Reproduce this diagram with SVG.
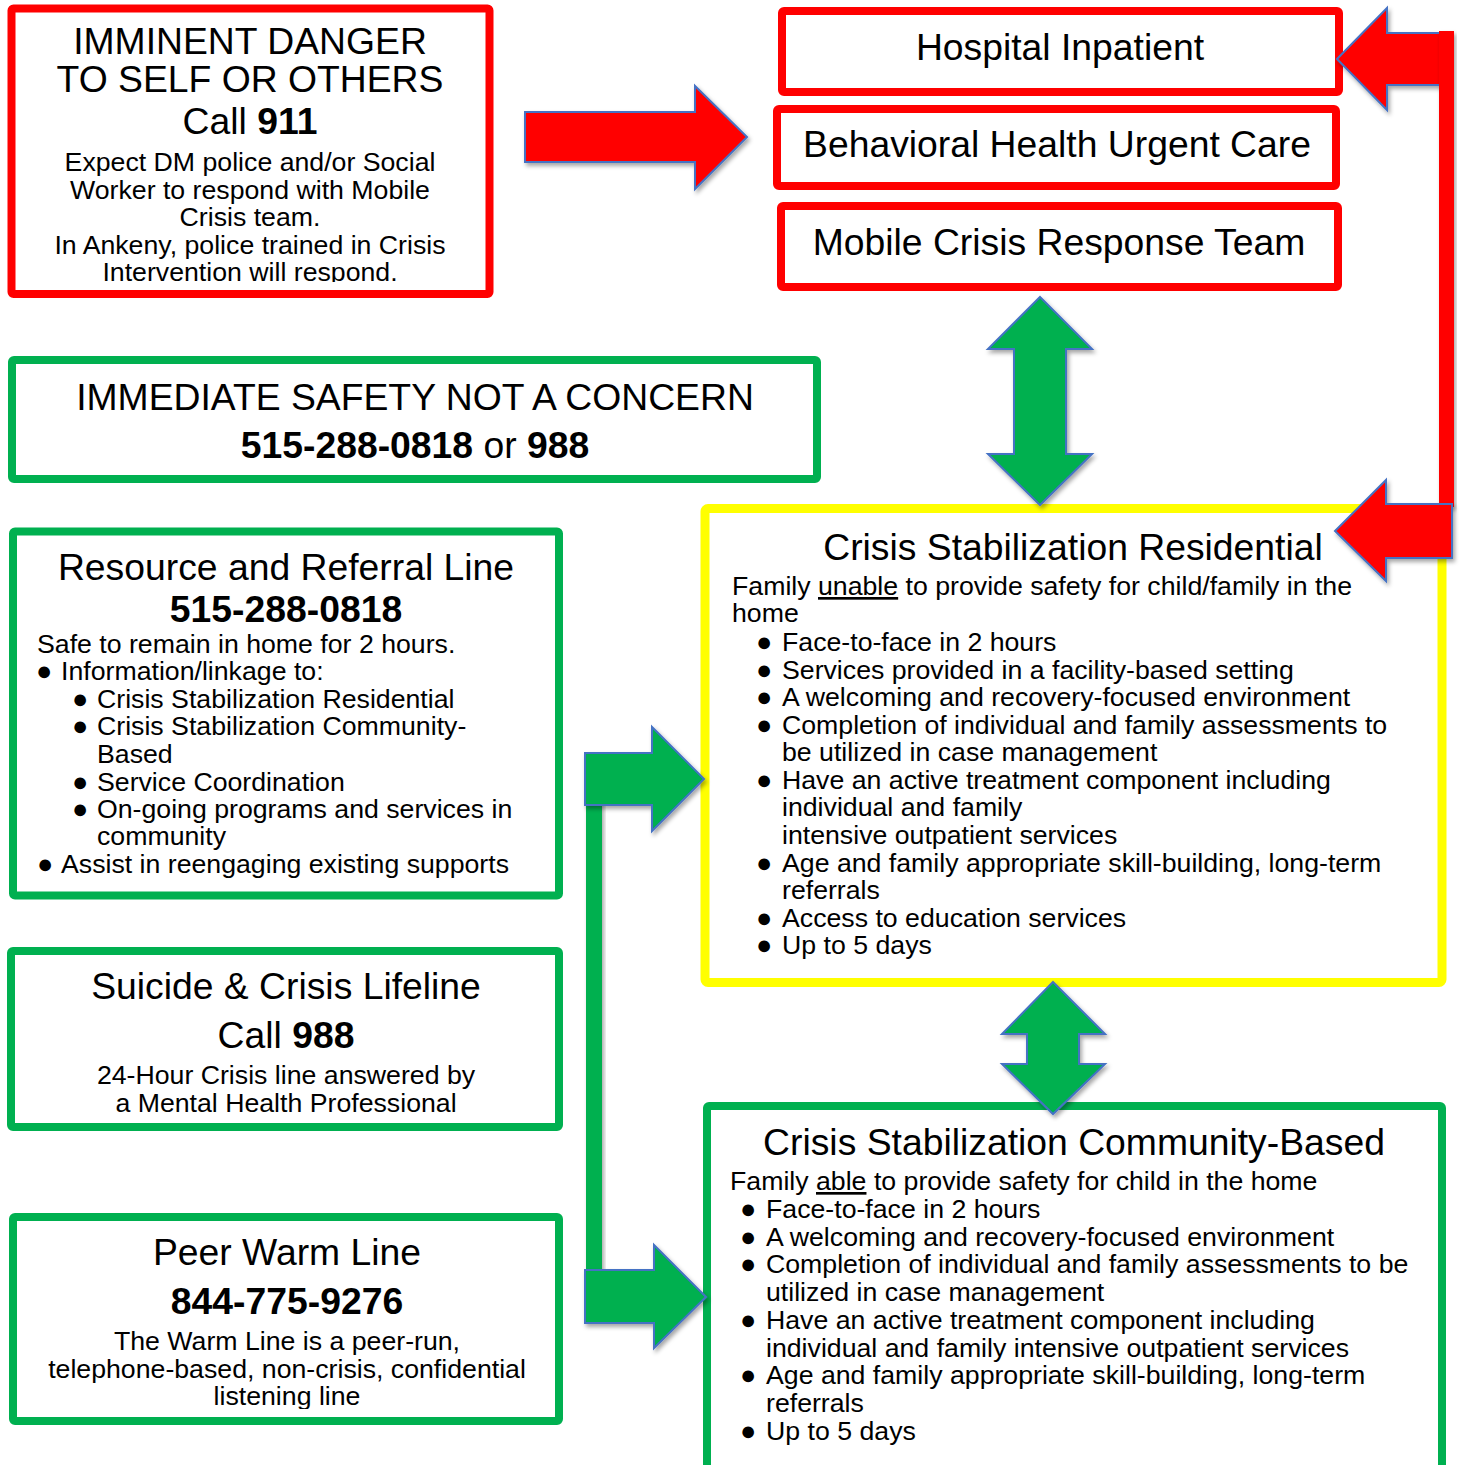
<svg xmlns="http://www.w3.org/2000/svg" width="1461" height="1465" viewBox="0 0 1461 1465">
<style>
text{font-family:"Liberation Sans",Arial,sans-serif;fill:#000}
.t{font-size:37.3px}
.b{font-size:26.7px}
.c{text-anchor:middle}
.bul{font-size:27px}
.red{fill:#fff;stroke:#FF0000;stroke-width:8}
.grn{fill:#fff;stroke:#00B050;stroke-width:8}
.yel{fill:#fff;stroke:#FFFF00;stroke-width:9}
.ar{stroke:#4472C4;stroke-width:2;stroke-linejoin:miter}
.rf{fill:#FF0000}
.gf{fill:#00B050}
</style>
<defs>
<filter id="sh" x="-20%" y="-20%" width="140%" height="140%">
<feDropShadow dx="2" dy="3" stdDeviation="2" flood-color="#000" flood-opacity="0.35"/>
</filter>
<clipPath id="c1"><rect x="0" y="0" width="500" height="282"/></clipPath>
<clipPath id="c2"><rect x="0" y="1220" width="570" height="189"/></clipPath>
</defs>
<rect width="1461" height="1465" fill="#fff"/>

<g id="imminent-danger">
<rect class="red" x="11.5" y="8.5" width="478" height="285.5" rx="2"/>
<g clip-path="url(#c1)">
<text class="t c" x="250" y="54">IMMINENT DANGER</text>
<text class="t c" x="250" y="92">TO SELF OR OTHERS</text>
<text class="t c" x="250" y="134">Call <tspan font-weight="bold">911</tspan></text>
<text class="b c" x="250" y="171">Expect DM police and/or Social</text>
<text class="b c" x="250" y="199">Worker to respond with Mobile</text>
<text class="b c" x="250" y="226">Crisis team.</text>
<text class="b c" x="250" y="254">In Ankeny, police trained in Crisis</text>
<text class="b c" x="250" y="281">Intervention will respond.</text>
</g>
</g>

<g id="hospital-inpatient">
<rect class="red" x="782" y="11" width="557" height="81" rx="2"/>
<text class="t c" x="1060" y="60">Hospital Inpatient</text>
</g>

<g id="bh-urgent-care">
<rect class="red" x="777" y="109" width="559" height="77" rx="2"/>
<text class="t c" x="1057" y="157">Behavioral Health Urgent Care</text>
</g>

<g id="mobile-crisis">
<rect class="red" x="781" y="206" width="557" height="81" rx="2"/>
<text class="t c" x="1059" y="255">Mobile Crisis Response Team</text>
</g>

<g id="immediate-safety">
<rect class="grn" x="12" y="360" width="805" height="119" rx="2"/>
<text class="t c" x="415" y="410">IMMEDIATE SAFETY NOT A CONCERN</text>
<text class="t c" x="415" y="458"><tspan font-weight="bold">515-288-0818</tspan> or <tspan font-weight="bold">988</tspan></text>
</g>

<g id="resource-referral">
<rect class="grn" x="13" y="531.5" width="546" height="364" rx="2"/>
<text class="t c" x="286" y="580">Resource and Referral Line</text>
<text class="t c" x="286" y="622" font-weight="bold">515-288-0818</text>
<text class="b" x="37" y="653">Safe to remain in home for 2 hours.</text>
<text class="bul" x="36" y="680">●</text>
<text class="b" x="61" y="680">Information/linkage to:</text>
<text class="bul" x="72" y="708">●</text>
<text class="b" x="97" y="708">Crisis Stabilization Residential</text>
<text class="bul" x="72" y="735">●</text>
<text class="b" x="97" y="735">Crisis Stabilization Community-</text>
<text class="b" x="97" y="763">Based</text>
<text class="bul" x="72" y="791">●</text>
<text class="b" x="97" y="791">Service Coordination</text>
<text class="bul" x="72" y="818">●</text>
<text class="b" x="97" y="818">On-going programs and services in</text>
<text class="b" x="97" y="845">community</text>
<text class="bul" x="37" y="873" font-size="22px">●</text>
<text class="b" x="61" y="873">Assist in reengaging existing supports</text>
</g>

<g id="suicide-crisis-lifeline">
<rect class="grn" x="11" y="951" width="548" height="176" rx="2"/>
<text class="t c" x="286" y="999">Suicide &amp; Crisis Lifeline</text>
<text class="t c" x="286" y="1048">Call <tspan font-weight="bold">988</tspan></text>
<text class="b c" x="286" y="1084">24-Hour Crisis line answered by</text>
<text class="b c" x="286" y="1112">a Mental Health Professional</text>
</g>

<g id="peer-warm-line">
<rect class="grn" x="13" y="1217" width="546" height="204" rx="2"/>
<text class="t c" x="287" y="1265">Peer Warm Line</text>
<text class="t c" x="287" y="1314" font-weight="bold">844-775-9276</text>
<g clip-path="url(#c2)">
<text class="b c" x="287" y="1350">The Warm Line is a peer-run,</text>
<text class="b c" x="287" y="1378">telephone-based, non-crisis, confidential</text>
<text class="b c" x="287" y="1405">listening line</text>
</g>
</g>

<g id="crisis-residential">
<rect class="yel" x="705" y="508.5" width="737" height="474" rx="3"/>
<text class="t c" x="1073" y="560">Crisis Stabilization Residential</text>
<text class="b" x="732" y="595">Family <tspan text-decoration="underline">unable</tspan> to provide safety for child/family in the</text>
<text class="b" x="732" y="622">home</text>
<g class="bul">
<text x="756" y="651">●</text><text x="756" y="679">●</text><text x="756" y="706">●</text><text x="756" y="734">●</text><text x="756" y="789">●</text><text x="756" y="872">●</text><text x="756" y="927">●</text><text x="756" y="954">●</text>
</g>
<text class="b" x="782" y="651">Face-to-face in 2 hours</text>
<text class="b" x="782" y="679">Services provided in a facility-based setting</text>
<text class="b" x="782" y="706">A welcoming and recovery-focused environment</text>
<text class="b" x="782" y="734">Completion of individual and family assessments to</text>
<text class="b" x="782" y="761">be utilized in case management</text>
<text class="b" x="782" y="789">Have an active treatment component including</text>
<text class="b" x="782" y="816">individual and family</text>
<text class="b" x="782" y="844">intensive outpatient services</text>
<text class="b" x="782" y="872">Age and family appropriate skill-building, long-term</text>
<text class="b" x="782" y="899">referrals</text>
<text class="b" x="782" y="927">Access to education services</text>
<text class="b" x="782" y="954">Up to 5 days</text>
</g>

<g id="crisis-community">
<rect class="grn" x="707" y="1106" width="735" height="380" rx="2"/>
<text class="t c" x="1074" y="1155">Crisis Stabilization Community-Based</text>
<text class="b" x="730" y="1190">Family <tspan text-decoration="underline">able</tspan> to provide safety for child in the home</text>
<g class="bul">
<text x="740" y="1218">●</text><text x="740" y="1246">●</text><text x="740" y="1273">●</text><text x="740" y="1329">●</text><text x="740" y="1384">●</text><text x="740" y="1440">●</text>
</g>
<text class="b" x="766" y="1218">Face-to-face in 2 hours</text>
<text class="b" x="766" y="1246">A welcoming and recovery-focused environment</text>
<text class="b" x="766" y="1273">Completion of individual and family assessments to be</text>
<text class="b" x="766" y="1301">utilized in case management</text>
<text class="b" x="766" y="1329">Have an active treatment component including</text>
<text class="b" x="766" y="1357">individual and family intensive outpatient services</text>
<text class="b" x="766" y="1384">Age and family appropriate skill-building, long-term</text>
<text class="b" x="766" y="1412">referrals</text>
<text class="b" x="766" y="1440">Up to 5 days</text>
</g>

<g id="connectors">
<polygon class="ar rf" filter="url(#sh)" points="525,112 695,112 695,86 747,137 695,189 695,162 525,162"/>
<polygon class="ar rf" filter="url(#sh)" points="1337,59 1387,8 1387,33 1445,33 1445,85 1387,85 1387,110"/>
<rect class="rf" filter="url(#sh)" x="1439" y="31" width="15" height="476"/>
<polygon class="ar rf" filter="url(#sh)" points="1335,531 1386,480 1386,504 1452,504 1452,558 1386,558 1386,581"/>
<polygon class="ar gf" filter="url(#sh)" points="1040,297 1092,349 1066,349 1066,454 1092,454 1040,505 988,454 1014,454 1014,349 988,349"/>
<polygon class="ar gf" filter="url(#sh)" points="1053,982 1105,1034 1079,1034 1079,1064 1105,1064 1053,1114 1002,1064 1027,1064 1027,1034 1002,1034"/>
<rect class="gf" filter="url(#sh)" x="586" y="800" width="16" height="475"/>
<polygon class="ar gf" filter="url(#sh)" points="585,753 652,753 652,727 704,779 652,831 652,805 585,805"/>
<polygon class="ar gf" filter="url(#sh)" points="585,1270 654,1270 654,1245 706,1297 654,1348 654,1323 585,1323"/>
</g>
</svg>
